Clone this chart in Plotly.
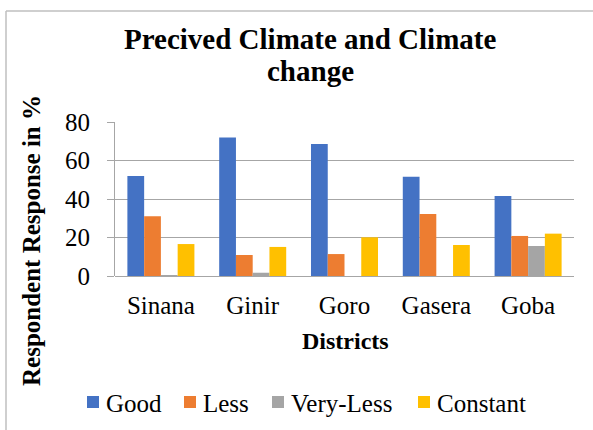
import plotly.graph_objects as go

districts = ["Sinana", "Ginir", "Goro", "Gasera", "Goba"]
series_names = ["Good", "Less", "Very-Less", "Constant"]
good = [52, 72, 68.6, 51.6, 41.6]
less = [31, 10.9, 11.4, 32.2, 20.8]
very_less = [0.5, 1.7, 0, 0, 15.6]
constant = [16.6, 15.1, 20.1, 16.1, 22]
y_ticks = [0, 20, 40, 60, 80]
colors = ["#4472C4", "#ED7D31", "#A5A5A5", "#FFC000"]

W, H = 593, 430
L, R, T, B = 115, 19, 122, 154
FONT = "Liberation Serif"

def px_x(x):
    return (x - L) / (W - L - R)

def px_y(y):
    return (H - B - y) / (H - T - B)

fig = go.Figure()
for name, vals, col in zip(series_names, [good, less, very_less, constant], colors):
    fig.add_trace(go.Bar(x=districts, y=vals, name=name, marker_color=col,
                         marker_line_width=0, showlegend=False))

fig.update_layout(
    width=W, height=H,
    margin=dict(l=L, r=R, t=T, b=B, autoexpand=False),
    paper_bgcolor="white", plot_bgcolor="white",
    barmode="group", bargap=0.27, bargroupgap=0,
    font=dict(family=FONT, color="black"),
)
fig.update_xaxes(showline=False, showgrid=False, ticks="",
                 tickfont=dict(size=25, family=FONT, color="black"),
                 ticklabelstandoff=12)
fig.update_yaxes(range=[0, 80], tickvals=y_ticks, showgrid=True,
                 gridcolor="#A6A6A6", gridwidth=1, showline=True,
                 linecolor="#A6A6A6", linewidth=1, ticks="outside",
                 ticklen=7, tickcolor="#A6A6A6", zeroline=True,
                 zerolinecolor="#A6A6A6", zerolinewidth=1,
                 tickfont=dict(size=25, family=FONT, color="black"),
                 ticklabelstandoff=12)

ann = []
# title, two lines
ann.append(dict(text="<b>Precived Climate and Climate</b>", x=px_x(310), y=px_y(39),
                xref="paper", yref="paper", showarrow=False, xanchor="center",
                yanchor="middle", font=dict(size=29, family=FONT, color="black")))
ann.append(dict(text="<b>change</b>", x=px_x(310), y=px_y(71),
                xref="paper", yref="paper", showarrow=False, xanchor="center",
                yanchor="middle", font=dict(size=29, family=FONT, color="black")))
# axis titles
ann.append(dict(text="<b>Districts</b>", x=px_x(345), y=px_y(341),
                xref="paper", yref="paper", showarrow=False, xanchor="center",
                yanchor="middle", font=dict(size=24, family=FONT, color="black")))
ann.append(dict(text="<b>Respondent Response in %</b>", x=px_x(31), y=px_y(241),
                xref="paper", yref="paper", showarrow=False, xanchor="center",
                yanchor="middle", textangle=-90,
                font=dict(size=25, family=FONT, color="black")))

# legend row
legend_x = [87, 184, 272, 418]
shapes = []
for name, col, lx in zip(series_names, colors, legend_x):
    shapes.append(dict(type="rect", xref="paper", yref="paper",
                       x0=px_x(lx), x1=px_x(lx + 12), y0=px_y(408), y1=px_y(396),
                       fillcolor=col, line_width=0))
    ann.append(dict(text=name, x=px_x(lx + 17), y=px_y(403), xref="paper",
                    yref="paper", showarrow=False, xanchor="left",
                    yanchor="middle", font=dict(size=25, family=FONT, color="black")))

# chart frame (top and left edges)
shapes.append(dict(type="line", xref="paper", yref="paper",
                   x0=px_x(6), x1=px_x(W), y0=px_y(11), y1=px_y(11),
                   line=dict(color="#BFBFBF", width=1.5)))
shapes.append(dict(type="line", xref="paper", yref="paper",
                   x0=px_x(6), x1=px_x(6), y0=px_y(11), y1=px_y(H),
                   line=dict(color="#BFBFBF", width=1.5)))

fig.update_layout(annotations=ann, shapes=shapes)
fig.write_html("out.html")
